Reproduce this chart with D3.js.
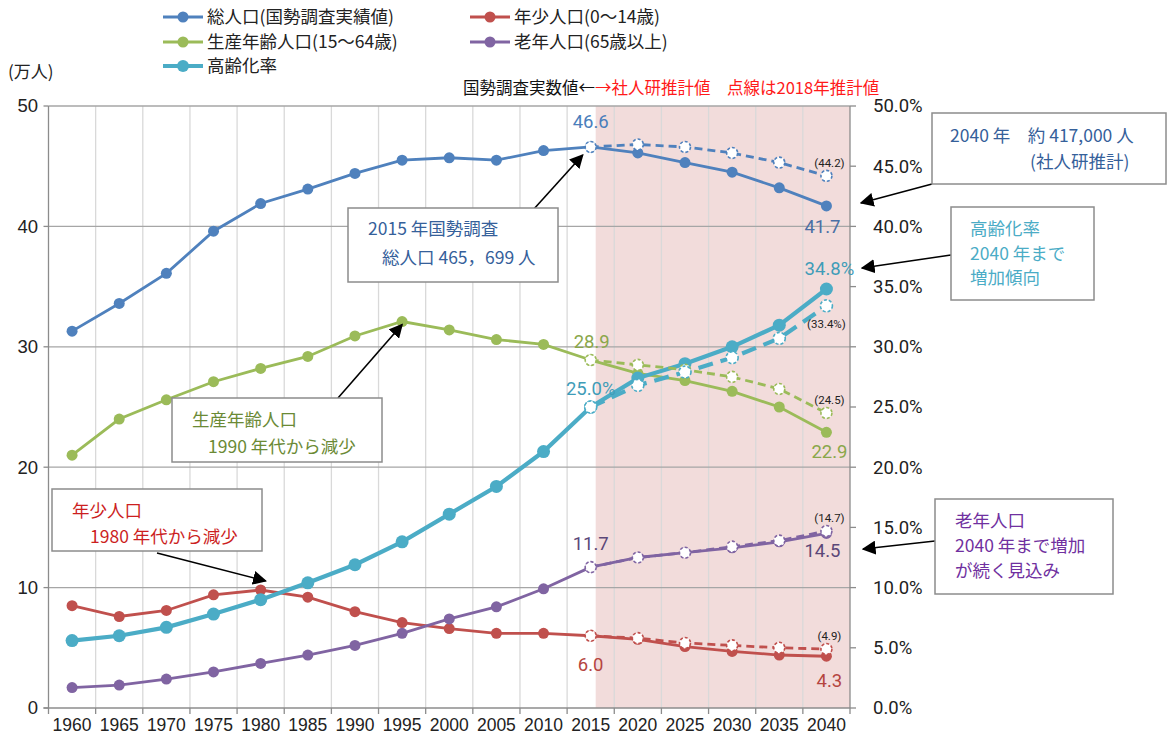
<!DOCTYPE html>
<html>
<head>
<meta charset="utf-8">
<script src="https://cdn.jsdelivr.net/npm/d3@7"></script>
<style>
  body { margin: 0; background: #fff; }
  text { font-family: "Noto Sans CJK JP", sans-serif; }
  .num { font-family: "Liberation Sans Narrow", "Liberation Sans", sans-serif; }
  .lbl { font-family: Roboto, "Liberation Sans", sans-serif; }
</style>
</head>
<body>
<svg id="chart" width="1173" height="744"></svg>
<script>
// years on the category axis
const years = [1960, 1965, 1970, 1975, 1980, 1985, 1990, 1995, 2000, 2005, 2010, 2015, 2020, 2025, 2030, 2035, 2040];
const actualYears = years.slice(0, 12);      // 1960-2015 国勢調査
const projYears   = years.slice(11);         // 2015-2040 推計

// 万人
const totalActual = [31.3, 33.6, 36.1, 39.6, 41.9, 43.1, 44.4, 45.5, 45.7, 45.5, 46.3, 46.6];
const totalProj   = [46.6, 46.1, 45.3, 44.5, 43.2, 41.7];
const totalDash   = [46.6, 46.8, 46.6, 46.1, 45.3, 44.2];

const youngActual = [8.5, 7.6, 8.1, 9.4, 9.8, 9.2, 8.0, 7.1, 6.6, 6.2, 6.2, 6.0];
const youngProj   = [6.0, 5.7, 5.1, 4.7, 4.4, 4.3];
const youngDash   = [6.0, 5.8, 5.4, 5.2, 5.0, 4.9];

const prodActual  = [21.0, 24.0, 25.6, 27.1, 28.2, 29.2, 30.9, 32.1, 31.4, 30.6, 30.2, 28.9];
const prodProj    = [28.9, 27.8, 27.2, 26.3, 25.0, 22.9];
const prodDash    = [28.9, 28.5, 28.1, 27.5, 26.5, 24.5];

const elderActual = [1.7, 1.9, 2.4, 3.0, 3.7, 4.4, 5.2, 6.2, 7.4, 8.4, 9.9, 11.7];
const elderProj   = [11.7, 12.5, 12.9, 13.3, 13.8, 14.5];
const elderDash   = [11.7, 12.5, 12.9, 13.4, 13.9, 14.7];

// 高齢化率 (%)
const agingActual = [5.6, 6.0, 6.7, 7.8, 9.0, 10.4, 11.9, 13.8, 16.1, 18.4, 21.3, 25.0];
const agingProj   = [25.0, 27.4, 28.6, 30.0, 31.8, 34.8];
const agingDash   = [25.0, 26.8, 27.9, 29.1, 30.7, 33.4];

const leftTicks  = [0, 10, 20, 30, 40, 50];
const rightTicks = [0, 5, 10, 15, 20, 25, 30, 35, 40, 45, 50];

const svg = d3.select('#chart');
const plot = { left: 48.5, right: 850, top: 106, bottom: 708 };

const x = d3.scaleBand().domain(years).range([plot.left, plot.right]).padding(0);
const cx = d => x(d) + x.bandwidth() / 2;
const y  = d3.scaleLinear().domain([0, 50]).range([plot.bottom, plot.top]);
const y2 = d3.scaleLinear().domain([0, 50]).range([plot.bottom, plot.top]);

// 推計 background
svg.append('rect')
    .attr('x', cx(2015) + 5).attr('y', plot.top)
    .attr('width', plot.right - cx(2015) - 5).attr('height', plot.bottom - plot.top)
    .attr('fill', '#f2dcdb');

// vertical grid at category boundaries
svg.append('g').selectAll('line')
  .data(years.slice(1))
  .join('line')
    .attr('x1', d => x(d)).attr('x2', d => x(d))
    .attr('y1', plot.top).attr('y2', plot.bottom)
    .attr('stroke', '#d9d9d9').attr('stroke-width', 1.3);

// horizontal grid
svg.append('g').selectAll('line')
  .data(leftTicks.slice(1))
  .join('line')
    .attr('x1', plot.left).attr('x2', plot.right)
    .attr('y1', d => y(d)).attr('y2', d => y(d))
    .attr('stroke', '#a6a6a6').attr('stroke-width', 1.3);

// axes
const ax = svg.append('g').attr('stroke', '#8c8c8c').attr('stroke-width', 1.3);
ax.append('line').attr('x1', plot.left).attr('x2', plot.left).attr('y1', plot.top).attr('y2', plot.bottom);
ax.append('line').attr('x1', plot.right).attr('x2', plot.right).attr('y1', plot.top).attr('y2', plot.bottom);
ax.append('line').attr('x1', plot.left - 5).attr('x2', plot.right).attr('y1', plot.bottom).attr('y2', plot.bottom);
ax.selectAll('.lt').data(leftTicks).join('line')
    .attr('x1', plot.left - 5).attr('x2', plot.left).attr('y1', d => y(d)).attr('y2', d => y(d));
ax.selectAll('.rt').data(rightTicks).join('line')
    .attr('x1', plot.right).attr('x2', plot.right + 6).attr('y1', d => y2(d)).attr('y2', d => y2(d));
ax.selectAll('.bt').data(years.concat(['end'])).join('line')
    .attr('x1', d => d === 'end' ? plot.right : x(d))
    .attr('x2', d => d === 'end' ? plot.right : x(d))
    .attr('y1', plot.bottom).attr('y2', plot.bottom + 6);

svg.append('g').selectAll('text').data(leftTicks).join('text')
    .attr('class', 'num')
    .attr('x', 38).attr('y', d => y(d)).attr('dy', '0.35em')
    .attr('text-anchor', 'end').attr('font-size', 18.5).attr('fill', '#222')
    .text(d => d);
svg.append('g').selectAll('text').data(rightTicks).join('text')
    .attr('class', 'lbl')
    .attr('x', 873).attr('y', d => y2(d)).attr('dy', '0.35em')
    .attr('font-size', 18.5).attr('fill', '#222')
    .text(d => d.toFixed(1) + '%');
svg.append('g').selectAll('text').data(years).join('text')
    .attr('class', 'num')
    .attr('x', d => cx(d)).attr('y', 731)
    .attr('text-anchor', 'middle').attr('font-size', 17.5).attr('fill', '#222')
    .text(d => d);

// series
const C = {
  total: '#4f81bd', young: '#c0504d', prod: '#9bbb59', elder: '#8064a2', aging: '#4bacc6'
};
const line = (yy) => d3.line().x(d => cx(d[0])).y(d => yy(d[1]));
const pairs = (yrs, vals) => yrs.map((t, i) => [t, vals[i]]);

function series(color, yrs, vals, o) {
  const g = svg.append('g');
  const data = pairs(yrs, vals);
  g.append('path').datum(data)
      .attr('d', line(o.scale || y))
      .attr('fill', 'none').attr('stroke', color)
      .attr('stroke-width', o.width)
      .attr('stroke-dasharray', o.dash ? o.dash : null);
  g.selectAll('circle').data(data).join('circle')
      .attr('cx', d => cx(d[0])).attr('cy', d => (o.scale || y)(d[1]))
      .attr('r', o.r)
      .attr('fill', o.hollow ? '#fff' : color)
      .attr('stroke', color)
      .attr('stroke-width', o.hollow ? 1.6 : 0)
      .attr('stroke-dasharray', o.hollow ? '3,2' : null);
}

const solid = { width: 2.8, r: 5.5 };
const solidT = { width: 4.2, r: 6.5, scale: y2 };
series(C.total, actualYears, totalActual, solid);
series(C.total, projYears, totalProj, solid);
series(C.young, actualYears, youngActual, solid);
series(C.young, projYears, youngProj, solid);
series(C.prod, actualYears, prodActual, solid);
series(C.prod, projYears, prodProj, solid);
series(C.elder, actualYears, elderActual, solid);
series(C.elder, projYears, elderProj, solid);
series(C.aging, actualYears, agingActual, solidT);
series(C.aging, projYears, agingProj, solidT);

const dash = { width: 2.8, r: 5.5, dash: '8,5', hollow: true };
series(C.total, projYears, totalDash, dash);
series(C.young, projYears, youngDash, dash);
series(C.prod, projYears, prodDash, dash);
series(C.elder, projYears, elderDash, dash);
series(C.aging, projYears, agingDash, { width: 4.2, r: 6, dash: '15,8', hollow: true, scale: y2 });

// data labels
const last = a => a[a.length - 1];
const labels = [
  { yr: 2015, v: totalActual[11], t: '46.6', dx: 0, dy: -19, c: '#4a7ebb' },
  { yr: 2040, v: last(totalProj), t: '41.7', dx: -4, dy: 27, c: '#4a6fa5' },
  { yr: 2015, v: prodActual[11], t: '28.9', dx: 1, dy: -12, c: '#8aa74a' },
  { yr: 2040, v: last(prodProj), t: '22.9', dx: 3, dy: 26, c: '#8aa74a' },
  { yr: 2015, v: agingActual[11], t: '25.0%', dx: 0, dy: -12, c: '#3f9cb8' },
  { yr: 2040, v: last(agingProj), t: '34.8%', dx: 3, dy: -14, c: '#3f9cb8' },
  { yr: 2015, v: elderActual[11], t: '11.7', dx: 0, dy: -17, c: '#5b4778' },
  { yr: 2040, v: last(elderProj), t: '14.5', dx: -4, dy: 24, c: '#5b4778' },
  { yr: 2015, v: youngActual[11], t: '6.0', dx: 0, dy: 35, c: '#b5453f' },
  { yr: 2040, v: last(youngProj), t: '4.3', dx: 3, dy: 31, c: '#b5453f' }
];
svg.append('g').selectAll('text').data(labels).join('text')
    .attr('class', 'lbl')
    .attr('x', d => cx(d.yr) + d.dx).attr('y', d => y(d.v) + d.dy)
    .attr('text-anchor', 'middle').attr('font-size', 18.5).attr('fill', d => d.c)
    .text(d => d.t);

const small = [
  { v: last(totalDash), t: '(44.2)' },
  { v: last(prodDash), t: '(24.5)' },
  { v: last(agingDash), t: '(33.4%)', dx: -3, dy: 22 },
  { v: last(elderDash), t: '(14.7)' },
  { v: last(youngDash), t: '(4.9)' }
];
svg.append('g').selectAll('text').data(small).join('text')
    .attr('class', 'lbl')
    .attr('x', d => cx(2040) + 3 + (d.dx || 0)).attr('y', d => y(d.v) + (d.dy || -9))
    .attr('text-anchor', 'middle').attr('font-size', 11.5).attr('fill', '#222')
    .text(d => d.t);

// legend
const legend = [
  { name: '総人口(国勢調査実績値)', c: C.total, lx: 163, ly: 17 },
  { name: '年少人口(0～14歳)', c: C.young, lx: 470, ly: 17 },
  { name: '生産年齢人口(15～64歳)', c: C.prod, lx: 163, ly: 42 },
  { name: '老年人口(65歳以上)', c: C.elder, lx: 470, ly: 42 },
  { name: '高齢化率', c: C.aging, lx: 163, ly: 66, thick: true }
];
const lg = svg.append('g').selectAll('g').data(legend).join('g')
    .attr('transform', d => `translate(${d.lx},${d.ly})`);
lg.append('line').attr('x1', 0).attr('x2', 40)
    .attr('stroke', d => d.c).attr('stroke-width', d => d.thick ? 4 : 3);
lg.append('circle').attr('cx', 20).attr('r', d => d.thick ? 6 : 5.5).attr('fill', d => d.c);
lg.append('text').attr('x', 44).attr('dy', '0.36em')
    .attr('font-size', 17.5).attr('fill', '#222').text(d => d.name);

svg.append('text').attr('x', 8).attr('y', 78).attr('font-size', 17).attr('fill', '#222').text('(万人)');

const note = svg.append('text').attr('x', 463).attr('y', 94).attr('font-size', 16.5);
note.append('tspan').attr('fill', '#111').text('国勢調査実数値←');
note.append('tspan').attr('fill', '#ff1a1a').text('→社人研推計値　点線は2018年推計値');

// callouts
svg.append('defs').append('marker')
    .attr('id', 'ah').attr('viewBox', '0 0 10 10')
    .attr('refX', 9).attr('refY', 5)
    .attr('markerWidth', 14).attr('markerHeight', 14)
    .attr('markerUnits', 'userSpaceOnUse')
    .attr('orient', 'auto')
  .append('path').attr('d', 'M0,0 L10,5 L0,10 Z').attr('fill', '#000');

const boxes = [
  { x: 348, y: 208, w: 210, h: 74, c: '#35609a',
    lines: [['2015 年国勢調査', 368, 235], ['総人口 465，699 人', 382, 264]],
    arrow: [533, 210, cx(2015) - 8, y(totalActual[11]) + 8] },
  { x: 932, y: 113, w: 234, h: 71, c: '#35609a',
    lines: [['2040 年　約 417,000 人', 950, 142], ['(社人研推計)', 1030, 168]],
    arrow: [932, 184, 861, 203] },
  { x: 951, y: 207, w: 143, h: 93, c: '#4bacc6',
    lines: [['高齢化率', 970, 235], ['2040 年まで', 970, 260], ['増加傾向', 970, 284]],
    arrow: [951, 255, 862, 268] },
  { x: 172, y: 398, w: 210, h: 64, c: '#6b8a35',
    lines: [['生産年齢人口', 192, 426], ['1990 年代から減少', 208, 453]],
    arrow: [338, 398, cx(1995), y(prodActual[7]) + 3] },
  { x: 52, y: 489, w: 210, h: 62, c: '#cc1f1f',
    lines: [['年少人口', 72, 517], ['1980 年代から減少', 90, 543]],
    arrow: [157, 553, cx(1980) + 5, y(youngActual[4]) - 9] },
  { x: 935, y: 499, w: 178, h: 95, c: '#7030a0',
    lines: [['老年人口', 955, 527], ['2040 年まで増加', 955, 552], ['が続く見込み', 955, 577]],
    arrow: [935, 541, 863, 549] }
];
const bx = svg.append('g').selectAll('g').data(boxes).join('g');
bx.append('line')
    .attr('x1', d => d.arrow[0]).attr('y1', d => d.arrow[1])
    .attr('x2', d => d.arrow[2]).attr('y2', d => d.arrow[3])
    .attr('stroke', '#000').attr('stroke-width', 1.6)
    .attr('marker-end', 'url(#ah)');
bx.append('rect')
    .attr('x', d => d.x).attr('y', d => d.y).attr('width', d => d.w).attr('height', d => d.h)
    .attr('fill', '#fff').attr('stroke', '#8c8c8c').attr('stroke-width', 1.5);
bx.each(function(d) {
  d3.select(this).selectAll('text').data(d.lines).join('text')
      .attr('x', l => l[1]).attr('y', l => l[2])
      .attr('font-size', 17.5).attr('fill', d.c)
      .text(l => l[0]);
});
</script>
</body>
</html>
